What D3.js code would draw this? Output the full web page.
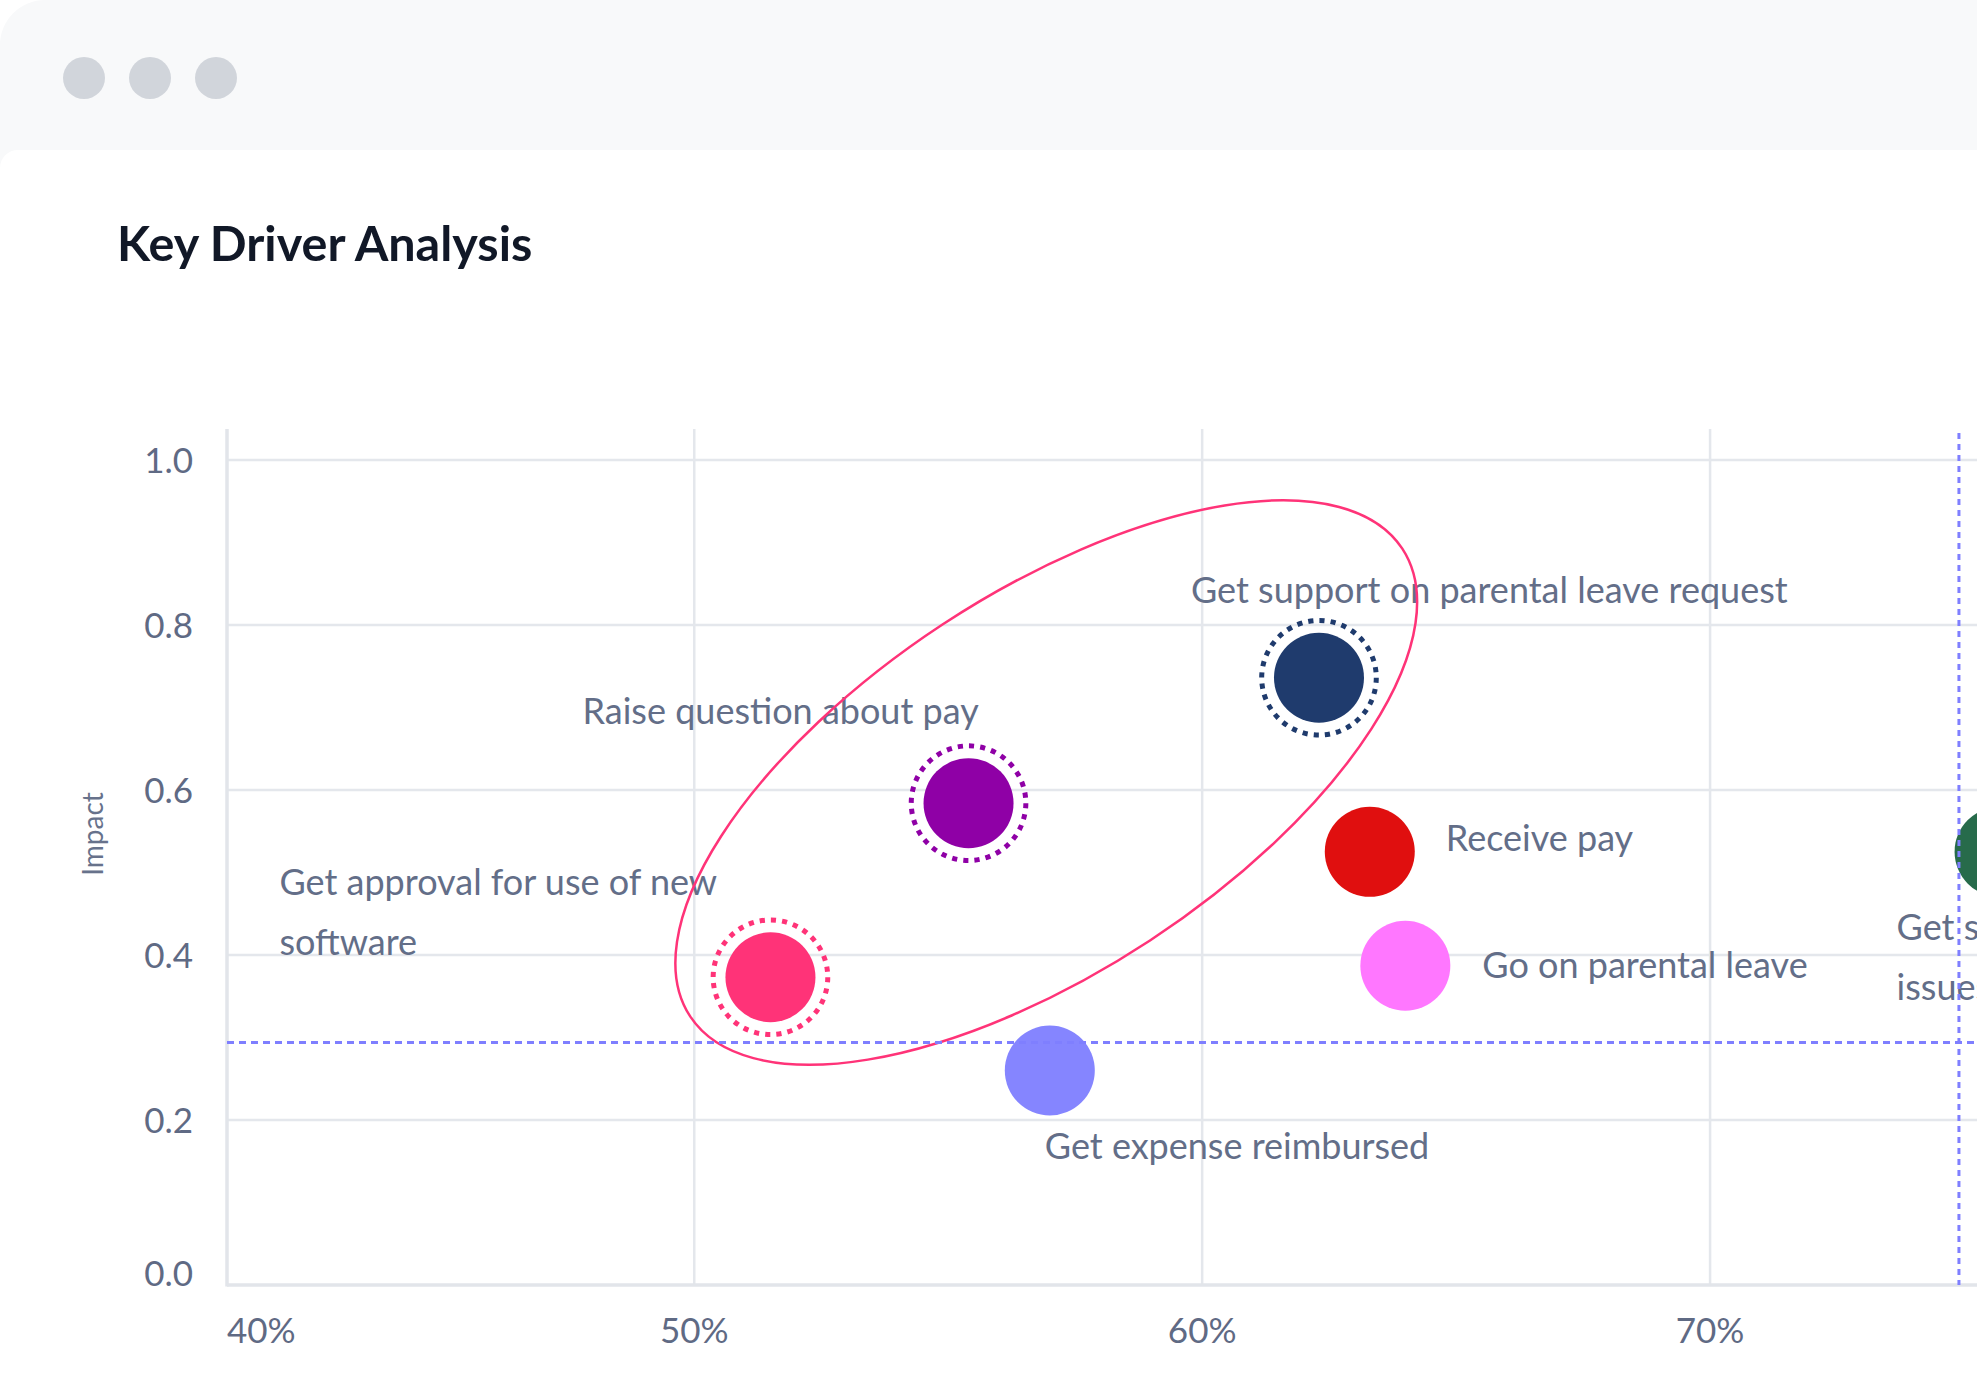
<!DOCTYPE html>
<html lang="en">
<head>
  <meta charset="UTF-8">
  <title>Key Driver Analysis</title>
  <script src="https://d3js.org/d3.v7.min.js"></script>
  <style>
    body {
      margin: 0;
      background: #fff;
      font-family: Lato, "Noto Sans", sans-serif;
    }
    svg { display: block; }
    .grid line { stroke: #e4e7ec; stroke-width: 2.5; }
    .tick-label { fill: #5f6a84; font-size: 35px; }
    .point-label { fill: #636e88; font-size: 36px; }
  </style>
</head>
<body>
<svg width="1977" height="1377"></svg>

<script>
  // drivers
  const drivers = [
    "Get approval for use of new software",
    "Raise question about pay",
    "Get support on parental leave request",
    "Receive pay",
    "Go on parental leave",
    "Get expense reimbursed",
    "Get support with IT issues"
  ];
  const coverage = [0.515, 0.554, 0.623, 0.633, 0.640, 0.570, 0.757];   // x
  const impact   = [0.373, 0.584, 0.736, 0.525, 0.387, 0.260, 0.525];   // y
  const colors   = ["#ff3378", "#8f00a6", "#1f3b6d", "#e00f0f", "#ff77ff", "#8585ff", "#276b4b"];
  const highlighted = [true, true, true, false, false, false, false];

  const xTicks = [0.4, 0.5, 0.6, 0.7];
  const yTicks = [0, 0.2, 0.4, 0.6, 0.8, 1.0];
  const xThreshold = 0.749;
  const yThreshold = 0.294;

  // label placement relative to each point (pixels), plus wrap width
  const labelLayout = [
    { dx: -491, dy: -82, wrap: 470 },
    { dx: -386, dy: -79, wrap: 900 },
    { dx: -128, dy: -75, wrap: 900 },
    { dx: 76,   dy: -1,  wrap: 900 },
    { dx: 77,   dy: 12,  wrap: 900 },
    { dx: -5,   dy: 89,  wrap: 900 },
    { dx: -103, dy: 88,  wrap: 330 }
  ];

  const svg = d3.select("svg");
  const width = 1977, height = 1377;

  // window chrome
  svg.append("path")
    .attr("d", "M0,45 A45,45 0 0 1 45,0 L" + width + ",0 L" + width + ",175 L0,175 Z")
    .attr("fill", "#f8f9fa");
  svg.append("path")
    .attr("d", "M0,168 A18,18 0 0 1 18,150 L" + width + ",150 L" + width + "," + height + " L0," + height + " Z")
    .attr("fill", "#fff");
  svg.selectAll("circle.dot")
    .data([0, 1, 2])
    .join("circle")
    .attr("class", "dot")
    .attr("cx", i => 84 + i * 66)
    .attr("cy", 78)
    .attr("r", 21)
    .attr("fill", "#d1d5db");

  svg.append("text")
    .attr("x", 117)
    .attr("y", 261)
    .attr("fill", "#111827")
    .style("font-size", "48.5px")
    .style("font-weight", 700)
    .text("Key Driver Analysis");

  const pLeft = 227, pTop = 429, pBottom = 1285, pRight = 2091;
  const x = d3.scaleLinear().domain([0.408, 0.775]).range([pLeft, pRight]);
  const y = d3.scaleLinear().domain([0, 1.0375]).range([pBottom, pTop]);

  const plot = svg.append("g");

  // gridlines
  const grid = plot.append("g").attr("class", "grid");
  grid.selectAll("line.h")
    .data(yTicks.filter(d => d > 0))
    .join("line")
    .attr("x1", pLeft).attr("x2", width)
    .attr("y1", d => y(d)).attr("y2", d => y(d));
  grid.selectAll("line.v")
    .data(xTicks.filter(d => x(d) > pLeft))
    .join("line")
    .attr("x1", d => x(d)).attr("x2", d => x(d))
    .attr("y1", pTop).attr("y2", pBottom);

  // axis lines
  plot.append("line")
    .attr("x1", pLeft).attr("x2", pLeft).attr("y1", pTop).attr("y2", pBottom + 1.5)
    .attr("stroke", "#e2e5ea").attr("stroke-width", 3.5);
  plot.append("line")
    .attr("x1", pLeft).attr("x2", width).attr("y1", pBottom).attr("y2", pBottom)
    .attr("stroke", "#e2e5ea").attr("stroke-width", 3.5);

  // tick labels (the bottom one is nudged up to stay clear of the axis)
  plot.selectAll("text.ytick")
    .data(yTicks)
    .join("text")
    .attr("class", "tick-label ytick")
    .attr("x", 193)
    .attr("y", d => Math.min(y(d), pBottom - 12))
    .attr("dy", "0.36em")
    .attr("text-anchor", "end")
    .text(d3.format(".1f"));
  plot.selectAll("text.xtick")
    .data(xTicks)
    .join("text")
    .attr("class", "tick-label xtick")
    .attr("x", d => Math.max(x(d), pLeft))
    .attr("y", 1343)
    .attr("text-anchor", d => x(d) < pLeft ? "start" : "middle")
    .text(d3.format(".0%"));

  svg.append("text")
    .attr("transform", "translate(103,834) rotate(-90)")
    .attr("text-anchor", "middle")
    .attr("fill", "#67728b")
    .style("font-size", "28px")
    .text("Impact");

  const pts = drivers.map((name, i) => ({
    name, cx: x(coverage[i]), cy: y(impact[i]), color: colors[i], hl: highlighted[i], lay: labelLayout[i]
  }));

  // dotted rings around highlighted drivers
  const ringR = 57.3;
  const period = 2 * Math.PI * ringR / 32;
  plot.selectAll("circle.ring")
    .data(pts.filter(d => d.hl))
    .join("circle")
    .attr("class", "ring")
    .attr("cx", d => d.cx).attr("cy", d => d.cy)
    .attr("r", ringR)
    .attr("fill", "none")
    .attr("stroke", d => d.color)
    .attr("stroke-width", 5)
    .attr("stroke-dasharray", (period * 0.46) + " " + (period * 0.54));

  plot.selectAll("circle.pt")
    .data(pts)
    .join("circle")
    .attr("class", "pt")
    .attr("cx", d => d.cx).attr("cy", d => d.cy)
    .attr("r", 45)
    .attr("fill", d => d.color);

  // labels, wrapped by width
  const labels = plot.selectAll("text.point-label")
    .data(pts)
    .join("text")
    .attr("class", "point-label")
    .attr("x", d => d.cx + d.lay.dx)
    .attr("y", d => d.cy + d.lay.dy);
  labels.each(function(d) {
    const t = d3.select(this);
    const words = d.name.split(" ");
    let line = [];
    let tspan = t.append("tspan").attr("x", d.cx + d.lay.dx).attr("dy", 0);
    words.forEach(w => {
      line.push(w);
      tspan.text(line.join(" "));
      if (tspan.node().getComputedTextLength() > d.lay.wrap && line.length > 1) {
        line.pop();
        tspan.text(line.join(" "));
        line = [w];
        tspan = t.append("tspan").attr("x", d.cx + d.lay.dx).attr("dy", 60).text(w);
      }
    });
  });

  // grouping ellipse around the highlighted drivers
  const group = { cx: 0.5693, cy: 0.609, rx: 426, ry: 189, angle: -33.3 };
  plot.append("ellipse")
    .attr("transform", "translate(" + x(group.cx) + "," + y(group.cy) + ") rotate(" + group.angle + ")")
    .attr("rx", group.rx).attr("ry", group.ry)
    .attr("fill", "none")
    .attr("stroke", "#ff3378")
    .attr("stroke-width", 2.5);

  // threshold lines
  plot.append("line")
    .attr("x1", pLeft).attr("x2", width)
    .attr("y1", y(yThreshold)).attr("y2", y(yThreshold))
    .attr("stroke", "#7f7fff").attr("stroke-width", 3)
    .attr("stroke-dasharray", "7 5");
  plot.append("line")
    .attr("x1", x(xThreshold)).attr("x2", x(xThreshold))
    .attr("y1", pTop + 4).attr("y2", pBottom)
    .attr("stroke", "#7f7fff").attr("stroke-width", 3)
    .attr("stroke-dasharray", "6 5");
</script>
</body>
</html>
